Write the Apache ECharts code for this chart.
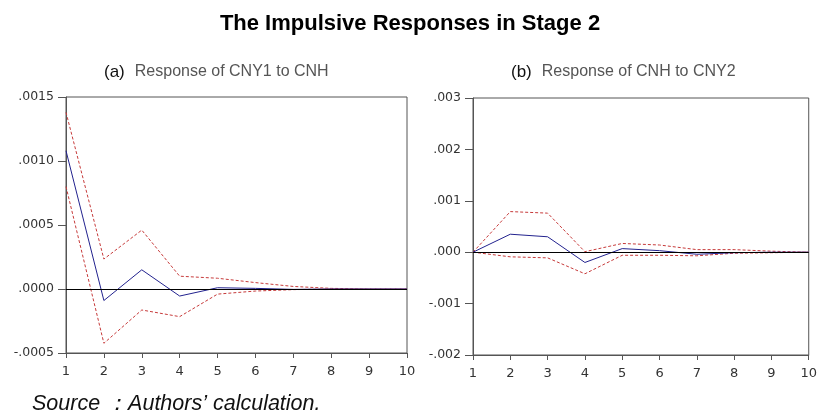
<!DOCTYPE html>
<html><head><meta charset="utf-8">
<script src="https://cdn.jsdelivr.net/npm/echarts@6/dist/echarts.min.js"></script>
<style>html,body{margin:0;padding:0;background:#fff}#c{width:820px;height:417px}</style>
</head><body><div id="c"></div>
<script>
var periods = [1,2,3,4,5,6,7,8,9,10];
// Panel (a): Response of CNY1 to CNH
var aMid   = [0.00108, -0.00009, 0.00015, -0.000055, 0.00001, 0.000005, -0.000003, 0, 0, 0];
var aUpper = [0.00138, 0.000234, 0.00046, 0.0001, 0.000084, 0.00005, 0.00002, 0.000005, 0, 0];
var aLower = [0.0008, -0.000424, -0.000164, -0.000216, -0.00004, -0.000016, -0.000005, 0, 0, 0];
// Panel (b): Response of CNH to CNY2
var bMid   = [0, 0.00035, 0.0003, -0.0002, 0.00007, 0.00003, -0.00004, -0.00001, 0, 0];
var bUpper = [0, 0.00079, 0.00076, 0.00001, 0.00017, 0.00014, 0.00005, 0.00005, 0.00002, 0];
var bLower = [0, -0.00009, -0.00011, -0.00042, -0.00006, -0.00006, -0.00007, -0.00002, -0.00001, 0];
var aTicks = {min: -0.0005, max: 0.0015, interval: 0.0005, digits: 4};
var bTicks = {min: -0.002, max: 0.003, interval: 0.001, digits: 3};

function pairs(v){ return periods.map(function(p,i){ return [p, v[i]]; }); }
function fmt(d){ return function(v){ var s = Math.abs(v) < 1e-12 ? (0).toFixed(d) : v.toFixed(d); return s.replace(/^(-?)0\./, '$1.'); }; }

var chart = echarts.init(document.getElementById('c'));
var mid = '#22228e', band = '#c63a3a';
function xAx(i){ return {type:'value', gridIndex:i, min:1, max:10, interval:1,
  axisLine:{onZero:false, lineStyle:{color:'#555'}}, axisTick:{length:5, lineStyle:{color:'#555'}},
  axisLabel:{color:'#333', fontSize:13, fontFamily:'DejaVu Sans', margin:12}, splitLine:{show:false}}; }
function yAx(i,t){ return {type:'value', gridIndex:i, min:t.min, max:t.max, interval:t.interval,
  axisLine:{show:true, lineStyle:{color:'#555'}}, axisTick:{show:true, length:8, lineStyle:{color:'#555'}},
  axisLabel:{color:'#333', fontSize:12.5, fontFamily:'DejaVu Sans', formatter: fmt(t.digits), margin:12}, splitLine:{show:false}}; }
function ser(i, data, dashed, withZero){
  var s = {type:'line', xAxisIndex:i, yAxisIndex:i, data:pairs(data), symbol:'none', silent:true,
    lineStyle:{width:1, color: dashed ? band : mid, type: dashed ? [3,2] : 'solid'}};
  if (withZero) s.markLine = {silent:true, symbol:'none', label:{show:false}, lineStyle:{color:'#000', width:1, type:'solid'}, data:[{yAxis:0}]};
  return s;
}
var subRich = {p:{fontSize:17, color:'#111', fontWeight:'normal', fontFamily:'Liberation Sans'}, t:{fontSize:16, color:'#555', fontWeight:'normal', fontFamily:'Liberation Sans'}};
chart.setOption({
  animation:false,
  title:[
    {text:'The Impulsive Responses in Stage 2', left:'center', top:8, textStyle:{fontSize:22, fontWeight:'bold', color:'#000', fontFamily:'Liberation Sans'}},
    {text:'{p|(a)}  {t|Response of CNY1 to CNH}', left:99, top:58, textStyle:{fontWeight:'normal', rich:subRich}},
    {text:'{p|(b)}  {t|Response of CNH to CNY2}', left:506, top:58, textStyle:{fontWeight:'normal', rich:subRich}},
    {text:'Source \uff1aAuthors\u2019 calculation.', left:27, top:388, textStyle:{fontSize:21.5, fontStyle:'italic', fontWeight:'normal', color:'#111', fontFamily:'Liberation Sans'}}
  ],
  grid:[
    {left:66, top:97, width:341, height:256, show:true, borderColor:'#555', borderWidth:1, backgroundColor:'transparent'},
    {left:473, top:98, width:342, height:257, show:true, borderColor:'#555', borderWidth:1, backgroundColor:'transparent'}
  ],
  xAxis:[xAx(0), xAx(1)],
  yAxis:[yAx(0,aTicks), yAx(1,bTicks)],
  series:[
    ser(0, aUpper, true, true), ser(0, aLower, true, false), ser(0, aMid, false, false),
    ser(1, bUpper, true, true), ser(1, bLower, true, false), ser(1, bMid, false, false)
  ]
});
</script></body></html>
